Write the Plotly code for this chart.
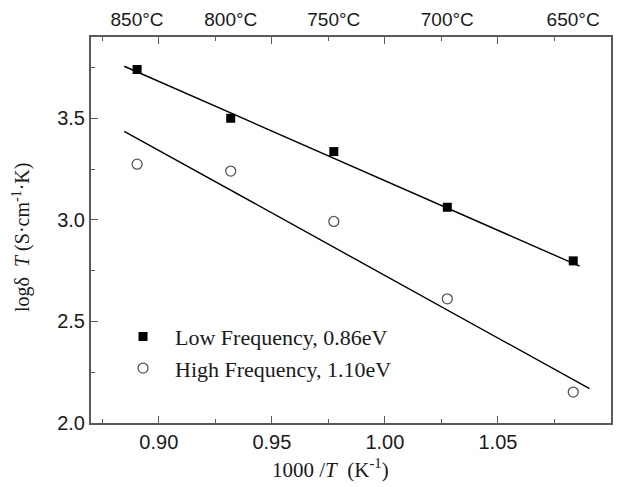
import plotly.graph_objects as go

# ---- data ----
inv_T = [0.8904, 0.9318, 0.9774, 1.0276, 1.0833]
low_freq = [3.740, 3.500, 3.336, 3.062, 2.798]
high_freq = [3.274, 3.240, 2.992, 2.611, 2.152]

fit_low_x = [0.8847, 1.0861]
fit_low_y = [3.756, 2.772]
fit_high_x = [0.8847, 1.0905]
fit_high_y = [3.436, 2.169]

top_temps_c = [850, 800, 750, 700, 650]
top_labels = [f"{t}°C" for t in top_temps_c]
top_pos = [1000.0 / (t + 273.15) for t in top_temps_c]

x_ticks = [0.90, 0.95, 1.00, 1.05, 1.10]
y_ticks = [2.0, 2.5, 3.0, 3.5]

x_title = "1000 /<i>T</i>\u00a0\u00a0(K<sup>-1</sup>)"
y_title = "logδ\u00a0\u00a0<i>T</i>\u00a0(S·cm<sup>-1</sup>·K)"

AXC = "#5a5a5a"
TXT = "#1a1a1a"
SERIF = "Liberation Serif, Times New Roman, serif"
SANS = "Liberation Sans, Arial, sans-serif"

# page body has an 8px margin, so the figure is 8px smaller and shifted
W, H = 622, 479
ML, MR, MT, MB = 83, 19, 29, 64

fig = go.Figure()
fig.add_trace(go.Scatter(x=fit_low_x, y=fit_low_y, mode="lines",
                         line=dict(color="black", width=1.4), showlegend=False, hoverinfo="skip"))
fig.add_trace(go.Scatter(x=fit_high_x, y=fit_high_y, mode="lines",
                         line=dict(color="black", width=1.4), showlegend=False, hoverinfo="skip"))
fig.add_trace(go.Scatter(x=inv_T, y=low_freq, mode="markers", name="Low Frequency, 0.86eV",
                         marker=dict(symbol="square", size=9, color="black",
                                     line=dict(color="black", width=0))))
fig.add_trace(go.Scatter(x=inv_T, y=high_freq, mode="markers", name="High Frequency, 1.10eV",
                         marker=dict(symbol="circle-open", size=10, color="#555555",
                                     line=dict(width=1.3))))
# invisible trace to activate the top axis
fig.add_trace(go.Scatter(x=top_pos, y=[2.0]*len(top_pos), xaxis="x2", showlegend=False,
                         hoverinfo="skip", mode="markers", marker=dict(opacity=0)))

pw = W - ML - MR
ph = H - MT - MB

fig.update_layout(
    width=W, height=H,
    margin=dict(l=ML, r=MR, t=MT, b=MB, autoexpand=False),
    paper_bgcolor="white", plot_bgcolor="white",
    font=dict(family=SANS, color=TXT, size=20),
    xaxis=dict(
        range=[0.870, 1.10], tickvals=x_ticks, tickformat=".2f", automargin=False,
        ticks="inside", ticklen=7, tickwidth=1.3, tickcolor=AXC,
        minor=dict(dtick=0.025, tick0=0.875, ticks="inside", ticklen=4, tickwidth=1.3, tickcolor=AXC),
        showline=True, linecolor=AXC, linewidth=2, mirror="ticks",
        showgrid=False, zeroline=False,
        tickfont=dict(size=20, family=SANS),
    ),
    xaxis2=dict(
        overlaying="x", side="top", range=[0.870, 1.10], automargin=False,
        tickvals=top_pos, ticktext=top_labels, ticks="", showline=False,
        showgrid=False, zeroline=False, ticklabelstandoff=6,
        tickfont=dict(size=19, family=SANS),
    ),
    yaxis=dict(
        range=[2.0, 3.9], tickvals=y_ticks, tickformat=".1f", automargin=False,
        ticks="inside", ticklen=7, tickwidth=1.3, tickcolor=AXC,
        minor=dict(dtick=0.25, tick0=2.0, ticks="inside", ticklen=4, tickwidth=1.3, tickcolor=AXC),
        showline=True, linecolor=AXC, linewidth=2, mirror=True,
        showgrid=False, zeroline=False,
        tickfont=dict(size=20, family=SANS),
    ),
    legend=dict(
        x=0.0385, y=0.278, xanchor="left", yanchor="top",
        bgcolor="rgba(0,0,0,0)", borderwidth=0,
        font=dict(family=SERIF, size=22, color=TXT),
        itemwidth=54, tracegroupgap=0,
    ),
    showlegend=True,
    annotations=[
        dict(text=x_title, xref="paper", yref="paper",
             x=(330 - 8 - ML) / pw, y=-(468 - 8 - (MT + ph)) / ph,
             xanchor="center", yanchor="middle", showarrow=False,
             font=dict(family=SERIF, size=21, color=TXT)),
        dict(text=y_title, xref="paper", yref="paper", textangle=-90,
             x=(22 - 8 - ML) / pw, y=1 - (238 - 8 - MT) / ph,
             xanchor="center", yanchor="middle", showarrow=False,
             font=dict(family=SERIF, size=20, color=TXT)),
    ],
)

fig.write_html("out.html")
